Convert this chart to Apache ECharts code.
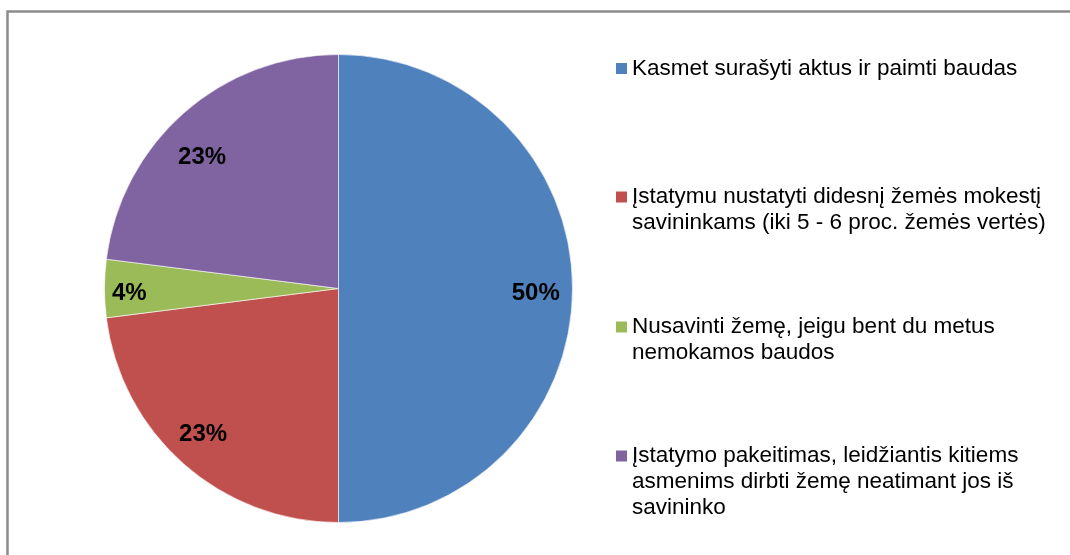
<!DOCTYPE html>
<html>
<head>
<meta charset="utf-8">
<script src="https://cdn.jsdelivr.net/npm/echarts@6/dist/echarts.min.js"></script>
<style>
html,body{margin:0;padding:0;background:#fff;}
#chart{width:1070px;height:555px;}
</style>
</head>
<body>
<div id="chart"></div>
<script>
const categories = [
  'Kasmet surašyti aktus ir paimti baudas',
  'Įstatymu nustatyti didesnį žemės mokestį\nsavininkams (iki 5 - 6 proc. žemės vertės)',
  'Nusavinti žemę, jeigu bent du metus\nnemokamos baudos',
  'Įstatymo pakeitimas, leidžiantis kitiems\nasmenims dirbti žemę neatimant jos iš\nsavininko'
];
const values = [50, 23, 4, 23];
const colors = ['#4F81BD', '#C0504D', '#9BBB59', '#8064A2'];

const CX = 338.5, CY = 288.5, R = 234;
const LH = 26;
const legendFirstLineY = [68.5, 197, 327, 456];
const labelShift = [[0, 5], [-5, -2], [-12, 5], [-6, 17]];

const chart = echarts.init(document.getElementById('chart'), null, {renderer: 'canvas'});

const legends = categories.map((name, i) => {
  const lines = name.split('\n').length;
  return {
    data: [name],
    orient: 'vertical',
    left: 616,
    top: legendFirstLineY[i] - (2 * lines - 1) * LH / 2,
    padding: 0,
    itemWidth: 11,
    itemHeight: 11,
    icon: 'rect',
    itemStyle: {borderWidth: 0},
    selectedMode: false,
    formatter: n => '\n'.repeat(lines - 1) + n,
    textStyle: {
      fontFamily: 'Liberation Sans, Arial, sans-serif',
      fontSize: 22.5,
      lineHeight: LH,
      color: '#000'
    }
  };
});

const pieData = categories.map((n, i) => ({name: n, value: values[i], itemStyle: {color: colors[i]}}));

chart.setOption({
  backgroundColor: '#fff',
  animation: false,
  graphic: [{
    type: 'rect',
    shape: {x: 7.5, y: 11.5, width: 1200, height: 700},
    style: {fill: 'none', stroke: '#8c8c8c', lineWidth: 2.5},
    silent: true
  }],
  legend: legends,
  series: [
    {
      type: 'pie',
      center: [CX, CY],
      radius: [0, R],
      startAngle: 90,
      clockwise: true,
      silent: true,
      label: {show: false},
      labelLine: {show: false},
      itemStyle: {borderColor: 'rgba(255,255,255,0.6)', borderWidth: 1},
      data: pieData
    },
    {
      type: 'pie',
      center: [CX, CY],
      radius: [R * 0.66, R],
      startAngle: 90,
      clockwise: true,
      silent: true,
      legendHoverLink: false,
      itemStyle: {color: 'rgba(0,0,0,0)', borderWidth: 0},
      labelLine: {show: false},
      label: {
        show: true,
        position: 'inside',
        formatter: p => p.value + '%',
        fontFamily: 'Liberation Sans, Arial, sans-serif',
        fontWeight: 'bold',
        fontSize: 24,
        color: '#000'
      },
      labelLayout: p => ({dx: labelShift[p.dataIndex][0], dy: labelShift[p.dataIndex][1]}),
      data: categories.map((n, i) => ({name: n, value: values[i]}))
    }
  ]
});
</script>
</body>
</html>
